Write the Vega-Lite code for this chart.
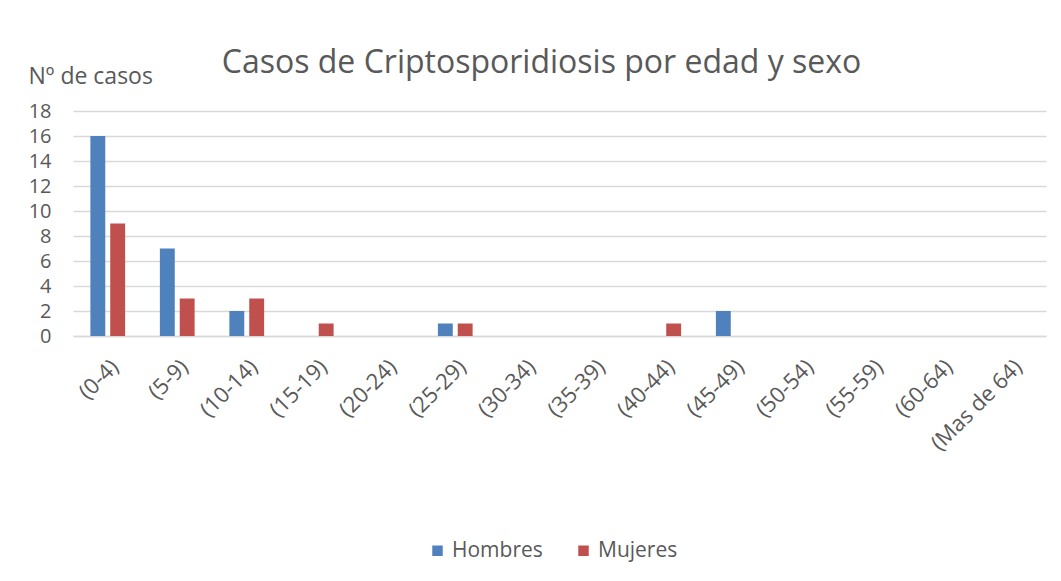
{
  "$schema": "https://vega.github.io/schema/vega-lite/v6.json",
  "width": 973,
  "height": 225,
  "autosize": {"type": "none"},
  "padding": {"left": 73, "top": 111, "right": 15, "bottom": 245},
  "background": "white",
  "config": {
    "view": {"stroke": null},
    "font": "Open Sans",
    "axis": {"labelColor": "#595959", "titleColor": "#595959", "labelFont": "Open Sans", "titleFont": "Open Sans"}
  },
  "title": {
    "text": "Casos de Criptosporidiosis por edad y sexo",
    "fontSize": 32,
    "fontWeight": "normal",
    "color": "#595959",
    "font": "Open Sans",
    "anchor": "middle",
    "frame": "group",
    "dx": -18,
    "dy": 55,
    "offset": 40
  },
  "data": {
    "values": [
      {"edad": "(0-4)", "sexo": "Hombres", "casos": 16},
      {"edad": "(0-4)", "sexo": "Mujeres", "casos": 9},
      {"edad": "(5-9)", "sexo": "Hombres", "casos": 7},
      {"edad": "(5-9)", "sexo": "Mujeres", "casos": 3},
      {"edad": "(10-14)", "sexo": "Hombres", "casos": 2},
      {"edad": "(10-14)", "sexo": "Mujeres", "casos": 3},
      {"edad": "(15-19)", "sexo": "Hombres", "casos": 0},
      {"edad": "(15-19)", "sexo": "Mujeres", "casos": 1},
      {"edad": "(20-24)", "sexo": "Hombres", "casos": 0},
      {"edad": "(20-24)", "sexo": "Mujeres", "casos": 0},
      {"edad": "(25-29)", "sexo": "Hombres", "casos": 1},
      {"edad": "(25-29)", "sexo": "Mujeres", "casos": 1},
      {"edad": "(30-34)", "sexo": "Hombres", "casos": 0},
      {"edad": "(30-34)", "sexo": "Mujeres", "casos": 0},
      {"edad": "(35-39)", "sexo": "Hombres", "casos": 0},
      {"edad": "(35-39)", "sexo": "Mujeres", "casos": 0},
      {"edad": "(40-44)", "sexo": "Hombres", "casos": 0},
      {"edad": "(40-44)", "sexo": "Mujeres", "casos": 1},
      {"edad": "(45-49)", "sexo": "Hombres", "casos": 2},
      {"edad": "(45-49)", "sexo": "Mujeres", "casos": 0},
      {"edad": "(50-54)", "sexo": "Hombres", "casos": 0},
      {"edad": "(50-54)", "sexo": "Mujeres", "casos": 0},
      {"edad": "(55-59)", "sexo": "Hombres", "casos": 0},
      {"edad": "(55-59)", "sexo": "Mujeres", "casos": 0},
      {"edad": "(60-64)", "sexo": "Hombres", "casos": 0},
      {"edad": "(60-64)", "sexo": "Mujeres", "casos": 0},
      {"edad": "(Mas de 64)", "sexo": "Hombres", "casos": 0},
      {"edad": "(Mas de 64)", "sexo": "Mujeres", "casos": 0}
    ]
  },
  "mark": {"type": "bar"},
  "encoding": {
    "x": {
      "field": "edad",
      "type": "nominal",
      "sort": null,
      "scale": {"paddingInner": 0.5, "paddingOuter": 0.25},
      "axis": {
        "title": null,
        "labelAngle": -45,
        "labelFontSize": 22,
        "labelPadding": 20,
        "labelDx": -14,
        "labelDy": -4,
        "ticks": false,
        "domainColor": "#d9d9d9",
        "domainWidth": 1.5,
        "labelLimit": 200
      }
    },
    "xOffset": {
      "field": "sexo",
      "type": "nominal",
      "scale": {"paddingInner": 0.25, "paddingOuter": 0}
    },
    "y": {
      "field": "casos",
      "type": "quantitative",
      "scale": {"domain": [0, 18]},
      "axis": {
        "values": [0, 2, 4, 6, 8, 10, 12, 14, 16, 18],
        "title": "Nº de casos",
        "titleFontSize": 23,
        "titleFontWeight": "normal",
        "titleAngle": 0,
        "titleAlign": "left",
        "titleBaseline": "alphabetic",
        "titleX": -45,
        "titleY": -28,
        "labelFontSize": 20,
        "labelPadding": 22,
        "ticks": false,
        "domain": false,
        "gridColor": "#d9d9d9",
        "gridWidth": 1.5
      }
    },
    "color": {
      "field": "sexo",
      "type": "nominal",
      "scale": {"domain": ["Hombres", "Mujeres"], "range": ["#4f81bd", "#c0504d"]},
      "legend": {
        "title": null,
        "orient": "none",
        "direction": "horizontal",
        "legendX": 354,
        "legendY": 429,
        "symbolType": "square",
        "symbolSize": 110,
        "symbolStrokeWidth": 0,
        "labelFontSize": 21,
        "labelColor": "#595959",
        "labelFont": "Open Sans",
        "labelOffset": 4,
        "columnPadding": 30
      }
    }
  }
}
